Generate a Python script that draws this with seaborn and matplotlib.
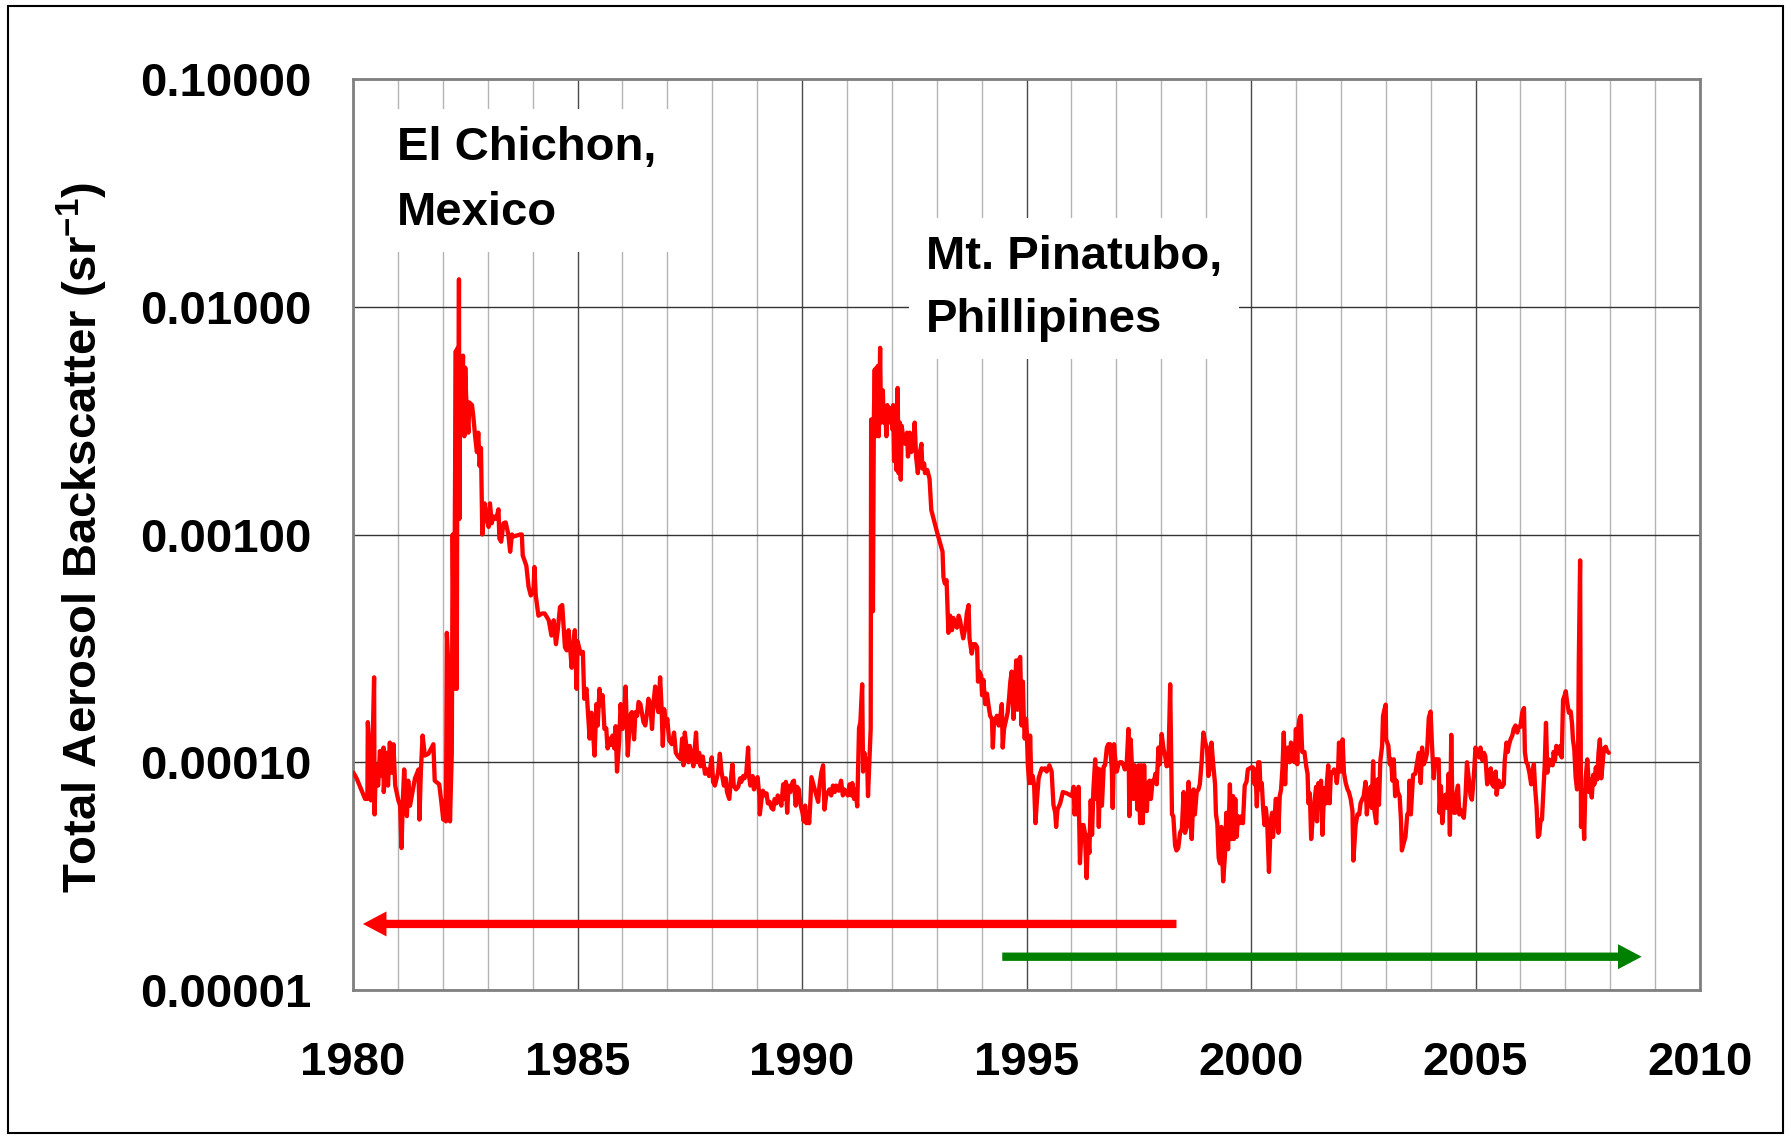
import matplotlib
matplotlib.use("Agg")
import matplotlib.pyplot as plt
import matplotlib.ticker as mticker
from matplotlib.patches import Rectangle
import pandas as pd
import seaborn as sns

# Total aerosol backscatter (sr^-1) against decimal year, read in segments.
seg_1980_1982 = [
    (1980.01, 9.0e-5), (1980.08, 8.5e-5), (1980.27, 6.9e-5), (1980.32, 6.9e-5),
    (1980.33, 1.5e-4), (1980.36, 1.18e-4), (1980.40, 6.8e-5), (1980.42, 8.5e-5),
    (1980.47, 2.36e-4), (1980.48, 5.9e-5), (1980.51, 9.7e-5), (1980.56, 7.9e-5),
    (1980.60, 1.12e-4), (1980.64, 8.7e-5), (1980.68, 1.16e-4), (1980.685, 7.4e-5),
    (1980.72, 9.3e-5), (1980.75, 1.1e-4), (1980.78, 7.9e-5), (1980.82, 1.22e-4),
    (1980.86, 9.0e-5), (1980.90, 1.2e-4), (1980.94, 7.9e-5), (1981.01, 6.8e-5),
    (1981.05, 6.45e-5), (1981.08, 4.2e-5), (1981.11, 6.8e-5), (1981.14, 9.3e-5),
    (1981.20, 5.8e-5), (1981.23, 8.3e-5), (1981.27, 6.45e-5), (1981.38, 8.5e-5),
    (1981.46, 9.3e-5), (1981.48, 5.6e-5), (1981.51, 9.0e-5), (1981.55, 1.31e-4),
    (1981.60, 1.07e-4), (1981.68, 1.09e-4), (1981.79, 1.2e-4), (1981.82, 8.3e-5),
    (1981.92, 8.0e-5), (1981.96, 6.9e-5), (1982.01, 5.6e-5), (1982.05, 6.8e-5),
]

seg_1982_1984 = [
    (1982.07, 5.5e-5), (1982.09, 3.7e-4), (1982.13, 2.5e-4), (1982.16, 5.5e-5),
    (1982.20, 1.1e-4), (1982.22, 1.0e-3), (1982.25, 2.1e-4), (1982.27, 1.37e-3),
    (1982.29, 6.4e-3), (1982.31, 2.1e-4), (1982.33, 6.6e-3), (1982.34, 1.17e-3),
    (1982.36, 1.32e-2), (1982.37, 1.17e-3), (1982.39, 5.9e-3), (1982.42, 3.0e-3),
    (1982.45, 6.1e-3), (1982.46, 3.0e-3), (1982.48, 2.7e-3), (1982.50, 5.4e-3),
    (1982.52, 4.0e-3), (1982.57, 2.8e-3), (1982.59, 3.8e-3), (1982.65, 3.7e-3),
    (1982.68, 3.3e-3), (1982.72, 2.7e-3), (1982.76, 2.3e-3), (1982.79, 2.8e-3),
    (1982.82, 2.0e-3), (1982.85, 2.4e-3), (1982.88, 1.0e-3), (1982.93, 1.37e-3),
    (1982.98, 1.17e-3), (1983.02, 1.08e-3), (1983.05, 1.37e-3), (1983.09, 1.12e-3),
    (1983.13, 1.2e-3), (1983.19, 1.17e-3), (1983.24, 1.29e-3), (1983.26, 9.6e-4),
    (1983.30, 9.3e-4), (1983.35, 1.12e-3), (1983.40, 1.13e-3), (1983.46, 1.0e-3),
    (1983.50, 8.4e-4), (1983.54, 1.0e-3), (1983.57, 9.8e-4), (1983.65, 9.9e-4),
    (1983.72, 1.0e-3), (1983.76, 1.0e-3), (1983.78, 8.1e-4), (1983.86, 7.3e-4),
    (1983.91, 5.9e-4), (1983.96, 5.4e-4), (1984.02, 5.7e-4), (1984.04, 7.2e-4),
    (1984.07, 5.4e-4), (1984.13, 4.4e-4),
]

seg_1984_1987 = [
    (1984.21, 4.5e-4), (1984.27, 4.5e-4), (1984.36, 4.2e-4), (1984.42, 3.6e-4),
    (1984.47, 4.2e-4), (1984.52, 3.3e-4), (1984.56, 3.8e-4), (1984.61, 4.8e-4),
    (1984.66, 4.9e-4), (1984.72, 3.2e-4), (1984.76, 3.1e-4), (1984.80, 3.8e-4),
    (1984.83, 3.3e-4), (1984.87, 2.6e-4), (1984.91, 3.2e-4), (1984.94, 3.8e-4),
    (1984.98, 2.1e-4), (1985.00, 3.4e-4), (1985.07, 3.0e-4), (1985.12, 3.05e-4),
    (1985.15, 1.9e-4), (1985.20, 2.1e-4), (1985.23, 1.7e-4), (1985.27, 1.27e-4),
    (1985.31, 1.65e-4), (1985.34, 1.4e-4), (1985.38, 1.07e-4), (1985.42, 1.8e-4),
    (1985.45, 1.45e-4), (1985.49, 2.1e-4), (1985.53, 1.78e-4), (1985.56, 1.97e-4),
    (1985.60, 1.4e-4), (1985.64, 1.41e-4), (1985.67, 1.15e-4), (1985.71, 1.27e-4),
    (1985.74, 1.19e-4), (1985.78, 1.31e-4), (1985.82, 1.15e-4), (1985.85, 1.44e-4),
    (1985.88, 9.1e-5), (1985.93, 1.26e-4), (1985.96, 1.8e-4), (1986.00, 1.4e-4),
    (1986.04, 1.66e-4), (1986.07, 2.15e-4), (1986.10, 1.4e-4), (1986.12, 1.07e-4),
    (1986.17, 1.6e-4), (1986.21, 1.66e-4), (1986.26, 1.26e-4), (1986.29, 1.66e-4),
    (1986.33, 1.6e-4), (1986.36, 1.84e-4), (1986.40, 1.8e-4), (1986.43, 1.66e-4),
    (1986.47, 1.5e-4), (1986.51, 1.45e-4), (1986.55, 1.66e-4), (1986.58, 1.9e-4),
    (1986.62, 1.8e-4), (1986.66, 1.4e-4), (1986.69, 1.8e-4), (1986.73, 2.15e-4),
    (1986.77, 1.8e-4), (1986.80, 1.66e-4),
]

seg_1987_1991 = [
    (1986.84, 2.36e-4), (1986.87, 1.78e-4), (1986.90, 1.18e-4), (1986.93, 1.71e-4),
    (1986.97, 1.45e-4), (1987.00, 1.55e-4), (1987.04, 1.25e-4), (1987.10, 1.2e-4),
    (1987.15, 1.35e-4), (1987.19, 1.1e-4), (1987.24, 1.06e-4), (1987.30, 1.03e-4),
    (1987.33, 1.27e-4), (1987.36, 9.7e-5), (1987.39, 1.35e-4), (1987.43, 1.15e-4),
    (1987.47, 1.0e-4), (1987.50, 1.18e-4), (1987.54, 1.06e-4), (1987.58, 9.6e-5),
    (1987.64, 1.35e-4), (1987.67, 1.0e-4), (1987.71, 1.1e-4), (1987.74, 9.6e-5),
    (1987.79, 1.06e-4), (1987.84, 8.9e-5), (1987.88, 9.3e-5), (1987.93, 8.7e-5),
    (1987.99, 1.05e-4), (1988.02, 8.2e-5), (1988.06, 7.9e-5), (1988.10, 8.5e-5),
    (1988.13, 9.0e-5), (1988.17, 1.09e-4), (1988.21, 9.0e-5), (1988.26, 7.9e-5),
    (1988.30, 8.5e-5), (1988.33, 7.4e-5), (1988.38, 6.9e-5), (1988.43, 9.0e-5),
    (1988.45, 9.8e-5), (1988.48, 7.9e-5), (1988.53, 7.6e-5), (1988.58, 7.8e-5),
    (1988.62, 8.5e-5), (1988.65, 8.2e-5), (1988.69, 8.7e-5), (1988.72, 8.5e-5),
    (1988.76, 9.0e-5), (1988.80, 1.16e-4), (1988.82, 8.7e-5), (1988.85, 7.9e-5),
    (1988.90, 8.7e-5), (1988.93, 7.6e-5), (1988.97, 8.2e-5), (1989.01, 8.6e-5),
    (1989.05, 7.15e-5), (1989.06, 5.9e-5), (1989.10, 6.9e-5), (1989.13, 7.5e-5),
    (1989.17, 7.15e-5), (1989.21, 7.3e-5), (1989.24, 6.6e-5), (1989.28, 6.7e-5),
    (1989.32, 6.3e-5), (1989.36, 6.2e-5), (1989.39, 6.9e-5), (1989.43, 6.6e-5),
    (1989.46, 7.15e-5), (1989.50, 6.9e-5), (1989.54, 6.45e-5), (1989.58, 8.0e-5),
    (1989.62, 6.9e-5), (1989.64, 8.2e-5), (1989.67, 6.0e-5), (1989.70, 7.9e-5),
    (1989.74, 7.4e-5), (1989.79, 8.2e-5), (1989.82, 8.3e-5), (1989.86, 6.45e-5),
    (1989.89, 7.8e-5), (1989.93, 7.6e-5), (1989.96, 6.6e-5), (1990.01, 6.0e-5),
    (1990.04, 5.5e-5), (1990.07, 6.45e-5), (1990.10, 5.4e-5), (1990.14, 6.0e-5),
    (1990.16, 5.4e-5), (1990.19, 6.9e-5), (1990.21, 8.6e-5), (1990.26, 7.9e-5),
    (1990.32, 7.15e-5), (1990.36, 6.7e-5), (1990.39, 7.9e-5), (1990.43, 9.0e-5),
    (1990.47, 9.7e-5), (1990.50, 6.2e-5), (1990.54, 7.15e-5), (1990.58, 7.4e-5),
    (1990.61, 7.6e-5), (1990.65, 7.15e-5), (1990.69, 7.9e-5), (1990.73, 7.4e-5),
    (1990.76, 7.9e-5), (1990.82, 7.5e-5), (1990.87, 8.3e-5), (1990.91, 7.15e-5),
    (1990.94, 7.6e-5), (1990.98, 7.4e-5), (1991.02, 7.15e-5), (1991.06, 8.0e-5),
    (1991.10, 7.15e-5),
]

seg_1991_1993 = [
    (1991.12, 8.1e-5), (1991.16, 6.9e-5), (1991.19, 7.6e-5), (1991.23, 6.4e-5),
    (1991.27, 1.41e-4), (1991.30, 1.5e-4), (1991.34, 2.2e-4), (1991.36, 9.1e-5),
    (1991.39, 1.1e-4), (1991.42, 1.0e-4), (1991.45, 1.03e-4), (1991.47, 7.1e-5),
    (1991.50, 1.0e-4), (1991.53, 1.41e-4), (1991.54, 3.2e-3), (1991.58, 4.6e-4),
    (1991.60, 3.2e-3), (1991.62, 5.3e-3), (1991.64, 2.7e-3), (1991.66, 5.4e-3),
    (1991.67, 3.2e-3), (1991.69, 5.5e-3), (1991.71, 2.7e-3), (1991.74, 6.6e-3),
    (1991.76, 3.1e-3), (1991.80, 4.3e-3), (1991.82, 3.1e-3), (1991.85, 3.66e-3),
    (1991.88, 2.7e-3), (1991.90, 3.7e-3), (1991.93, 3.1e-3), (1991.96, 3.4e-3),
    (1991.99, 3.6e-3), (1992.01, 2.9e-3), (1992.03, 3.7e-3), (1992.05, 2.1e-3),
    (1992.08, 2.8e-3), (1992.10, 1.92e-3), (1992.13, 4.4e-3), (1992.15, 1.86e-3),
    (1992.18, 3.1e-3), (1992.20, 1.74e-3), (1992.22, 3.0e-3), (1992.26, 2.6e-3),
    (1992.30, 2.5e-3), (1992.34, 2.8e-3), (1992.36, 2.2e-3), (1992.40, 2.8e-3),
    (1992.43, 2.3e-3), (1992.47, 2.35e-3), (1992.51, 3.1e-3), (1992.54, 2.2e-3),
    (1992.58, 1.86e-3), (1992.61, 2.2e-3), (1992.66, 2.5e-3), (1992.68, 1.95e-3),
    (1992.72, 2.05e-3), (1992.74, 1.86e-3), (1992.79, 1.92e-3), (1992.84, 1.76e-3),
    (1992.88, 1.28e-3), (1993.01, 1.02e-3), (1993.13, 8.4e-4), (1993.15, 6.5e-4),
    (1993.18, 6.1e-4), (1993.22, 6.3e-4), (1993.26, 3.7e-4),
]

seg_1993_1996 = [
    (1993.30, 4.4e-4), (1993.34, 3.8e-4), (1993.37, 4.3e-4), (1993.41, 4.0e-4),
    (1993.45, 3.9e-4), (1993.49, 4.4e-4), (1993.52, 4.2e-4), (1993.59, 3.5e-4),
    (1993.64, 3.9e-4), (1993.67, 4.5e-4), (1993.71, 4.9e-4), (1993.73, 3.5e-4),
    (1993.76, 3.2e-4), (1993.78, 3.0e-4), (1993.82, 3.3e-4), (1993.86, 3.3e-4),
    (1993.90, 3.2e-4), (1993.92, 2.26e-4), (1993.95, 2.5e-4), (1993.99, 2.4e-4),
    (1994.01, 1.97e-4), (1994.04, 2.3e-4), (1994.08, 1.8e-4), (1994.12, 2.0e-4),
    (1994.15, 1.8e-4), (1994.19, 1.6e-4), (1994.23, 1.55e-4), (1994.25, 1.16e-4),
    (1994.28, 1.55e-4), (1994.31, 1.5e-4), (1994.34, 1.6e-4), (1994.38, 1.45e-4),
    (1994.41, 1.55e-4), (1994.45, 1.8e-4), (1994.47, 1.16e-4), (1994.50, 1.4e-4),
    (1994.55, 1.55e-4), (1994.58, 1.65e-4), (1994.61, 1.9e-4), (1994.64, 2.26e-4),
    (1994.67, 2.5e-4), (1994.71, 1.55e-4), (1994.74, 2.0e-4), (1994.77, 2.8e-4),
    (1994.80, 1.7e-4), (1994.83, 2.8e-4), (1994.86, 2.9e-4), (1994.89, 1.45e-4),
    (1994.92, 2.26e-4), (1994.94, 1.56e-4), (1994.96, 1.27e-4), (1994.99, 1.55e-4),
    (1995.01, 1.31e-4), (1995.03, 9.7e-5), (1995.06, 8.1e-5), (1995.08, 1.31e-4),
    (1995.11, 8.1e-5), (1995.14, 8.7e-5), (1995.17, 7.9e-5), (1995.20, 5.4e-5),
    (1995.23, 6.7e-5), (1995.27, 8.5e-5), (1995.30, 8.9e-5), (1995.34, 9.4e-5),
    (1995.38, 9.3e-5), (1995.41, 9.4e-5), (1995.45, 9.1e-5), (1995.51, 9.7e-5),
    (1995.56, 9.1e-5), (1995.60, 6.5e-5), (1995.64, 6.0e-5), (1995.66, 5.2e-5),
    (1995.69, 6.2e-5), (1995.75, 6.6e-5),
]

seg_1996_1999 = [
    (1995.81, 7.4e-5), (1995.90, 7.3e-5), (1996.01, 7.1e-5), (1996.05, 7.8e-5),
    (1996.07, 5.9e-5), (1996.10, 6.9e-5), (1996.13, 5.9e-5), (1996.16, 7.8e-5),
    (1996.19, 3.6e-5), (1996.23, 5.3e-5), (1996.27, 5.3e-5), (1996.30, 4.9e-5),
    (1996.34, 3.1e-5), (1996.37, 4.8e-5), (1996.40, 4.0e-5), (1996.43, 6.8e-5),
    (1996.46, 4.8e-5), (1996.49, 7.6e-5), (1996.53, 1.03e-4), (1996.55, 6.9e-5),
    (1996.58, 9.4e-5), (1996.61, 5.2e-5), (1996.64, 9.3e-5), (1996.68, 6.45e-5),
    (1996.72, 9.6e-5), (1996.75, 9.7e-5), (1996.79, 1.16e-4), (1996.82, 1.2e-4),
    (1996.86, 1.2e-4), (1996.90, 9.3e-5), (1996.92, 6.3e-5), (1996.95, 1.2e-4),
    (1996.97, 1.06e-4), (1997.01, 9.1e-5), (1997.05, 9.8e-5), (1997.08, 1.0e-4),
    (1997.12, 1.0e-4), (1997.16, 9.7e-5), (1997.19, 9.3e-5), (1997.23, 9.7e-5),
    (1997.27, 1.4e-4), (1997.29, 5.8e-5), (1997.32, 1.26e-4), (1997.35, 9.5e-5),
    (1997.38, 6.9e-5), (1997.41, 9.7e-5), (1997.44, 8.2e-5), (1997.47, 6.2e-5),
    (1997.50, 9.7e-5), (1997.53, 5.4e-5), (1997.56, 9.7e-5), (1997.59, 5.4e-5),
    (1997.62, 9.7e-5), (1997.65, 6.2e-5), (1997.68, 6.1e-5), (1997.71, 8.1e-5),
    (1997.74, 8.3e-5), (1997.77, 6.9e-5), (1997.81, 8.3e-5), (1997.84, 8.2e-5),
    (1997.87, 8.9e-5), (1997.90, 8.0e-5), (1997.94, 1.16e-4), (1997.97, 9.8e-5),
    (1998.01, 1.33e-4), (1998.05, 1.15e-4), (1998.09, 1.06e-4), (1998.12, 9.6e-5),
    (1998.16, 9.7e-5), (1998.20, 2.2e-4), (1998.24, 5.9e-5), (1998.27, 5.8e-5),
    (1998.31, 4.3e-5), (1998.34, 4.1e-5), (1998.38, 4.2e-5), (1998.42, 4.9e-5),
    (1998.46, 5.1e-5), (1998.50, 7.4e-5), (1998.53, 4.9e-5), (1998.57, 5.2e-5),
    (1998.61, 8.2e-5), (1998.64, 6.3e-5), (1998.68, 4.6e-5), (1998.72, 7.6e-5),
    (1998.75, 5.9e-5), (1998.79, 7.4e-5), (1998.83, 7.6e-5), (1998.86, 8.0e-5),
    (1998.90, 1.0e-4), (1998.94, 1.35e-4), (1998.98, 1.22e-4), (1999.02, 1.16e-4),
    (1999.05, 8.7e-5), (1999.09, 9.7e-5), (1999.12, 1.22e-4), (1999.16, 9.7e-5),
    (1999.20, 8.0e-5), (1999.22, 5.9e-5), (1999.25, 5.4e-5), (1999.28, 3.8e-5),
    (1999.31, 3.6e-5),
]

seg_1999_2003 = [
    (1999.34, 5.2e-5), (1999.38, 3.0e-5), (1999.42, 3.9e-5), (1999.45, 6.0e-5),
    (1999.49, 4.15e-5), (1999.53, 8.0e-5), (1999.56, 4.6e-5), (1999.60, 7.1e-5),
    (1999.62, 4.6e-5), (1999.65, 6.9e-5), (1999.68, 4.7e-5), (1999.71, 5.8e-5),
    (1999.75, 5.4e-5), (1999.79, 5.8e-5), (1999.82, 5.4e-5), (1999.86, 7.9e-5),
    (1999.90, 8.2e-5), (1999.93, 9.3e-5), (1999.97, 9.4e-5), (2000.01, 9.5e-5),
    (2000.04, 9.5e-5), (2000.08, 8.0e-5), (2000.10, 9.3e-5), (2000.13, 6.4e-5),
    (2000.16, 1.0e-4), (2000.19, 1.0e-4), (2000.21, 7.6e-5), (2000.24, 8.1e-5),
    (2000.27, 6.3e-5), (2000.30, 5.3e-5), (2000.33, 6.3e-5), (2000.36, 5.5e-5),
    (2000.40, 3.3e-5), (2000.44, 5.5e-5), (2000.47, 6.0e-5), (2000.49, 4.7e-5),
    (2000.53, 5.8e-5), (2000.55, 6.9e-5), (2000.58, 6.9e-5), (2000.61, 4.9e-5),
    (2000.64, 7.1e-5), (2000.67, 7.6e-5), (2000.70, 9.4e-5), (2000.73, 1.35e-4),
    (2000.76, 8.0e-5), (2000.79, 1.13e-4), (2000.82, 1.16e-4), (2000.86, 1.0e-4),
    (2000.89, 1.22e-4), (2000.93, 1.11e-4), (2000.97, 1.0e-4), (2001.00, 1.4e-4),
    (2001.03, 9.8e-5), (2001.06, 1.45e-4), (2001.08, 1.55e-4), (2001.11, 1.6e-4),
    (2001.14, 1.11e-4), (2001.19, 1.11e-4), (2001.23, 9.6e-5), (2001.26, 8.9e-5),
    (2001.28, 6.6e-5), (2001.31, 7.3e-5), (2001.34, 4.6e-5), (2001.38, 5.9e-5),
    (2001.41, 6.6e-5), (2001.45, 7.8e-5), (2001.47, 5.5e-5), (2001.50, 8.1e-5),
    (2001.53, 7.1e-5), (2001.56, 8.3e-5), (2001.59, 4.8e-5), (2001.63, 7.7e-5),
    (2001.67, 6.6e-5), (2001.69, 8.1e-5), (2001.72, 9.7e-5), (2001.75, 6.6e-5),
    (2001.78, 9.0e-5), (2001.82, 9.0e-5), (2001.85, 9.3e-5), (2001.89, 8.8e-5),
    (2001.91, 8.1e-5), (2001.94, 9.3e-5), (2001.96, 1.22e-4), (2002.00, 9.1e-5),
    (2002.04, 1.26e-4), (2002.07, 9.0e-5), (2002.11, 8.1e-5), (2002.15, 7.6e-5),
    (2002.18, 7.4e-5), (2002.22, 6.9e-5), (2002.26, 6.1e-5), (2002.28, 3.7e-5),
    (2002.31, 4.6e-5), (2002.33, 5.3e-5), (2002.37, 5.9e-5), (2002.41, 5.9e-5),
    (2002.44, 6.6e-5), (2002.48, 6.9e-5), (2002.51, 7.1e-5), (2002.55, 8.2e-5),
    (2002.58, 5.9e-5), (2002.61, 7.1e-5),
]

seg_2003_2008 = [
    (2002.66, 7.8e-5), (2002.69, 6.3e-5), (2002.72, 1.01e-4), (2002.75, 6.1e-5),
    (2002.79, 5.4e-5), (2002.82, 8.4e-5), (2002.85, 6.5e-5), (2002.88, 1.01e-4),
    (2002.92, 1.18e-4), (2002.94, 1.59e-4), (2002.97, 1.7e-4), (2003.00, 1.79e-4),
    (2003.01, 1.26e-4), (2003.06, 1.18e-4), (2003.09, 9.8e-5), (2003.12, 1.03e-4),
    (2003.15, 8.3e-5), (2003.18, 1.03e-4), (2003.21, 7.1e-5), (2003.24, 8.3e-5),
    (2003.27, 7.4e-5), (2003.31, 7.1e-5), (2003.34, 5.6e-5), (2003.36, 4.1e-5),
    (2003.40, 4.4e-5), (2003.44, 4.7e-5), (2003.48, 5.9e-5), (2003.51, 6.0e-5),
    (2003.53, 8.3e-5), (2003.56, 5.9e-5), (2003.61, 8.8e-5), (2003.66, 8.9e-5),
    (2003.70, 1.0e-4), (2003.74, 1.1e-4), (2003.78, 8.1e-5), (2003.81, 1.16e-4),
    (2003.85, 9.8e-5), (2003.89, 1.03e-4), (2003.92, 1.1e-4), (2003.96, 1.57e-4),
    (2004.00, 1.67e-4), (2004.03, 1.2e-4), (2004.07, 8.5e-5), (2004.10, 1.03e-4),
    (2004.14, 1.03e-4), (2004.18, 1.03e-4), (2004.20, 6.0e-5), (2004.23, 7.85e-5),
    (2004.26, 5.4e-5), (2004.29, 6.3e-5), (2004.33, 7.2e-5), (2004.37, 6.3e-5),
    (2004.40, 8.9e-5), (2004.43, 4.8e-5), (2004.46, 1.32e-4), (2004.48, 7.4e-5),
    (2004.52, 6.0e-5), (2004.55, 6.0e-5), (2004.58, 7.4e-5), (2004.61, 7.9e-5),
    (2004.64, 5.9e-5), (2004.66, 6.2e-5), (2004.70, 5.9e-5), (2004.74, 5.7e-5),
    (2004.78, 7.3e-5), (2004.81, 1.0e-4), (2004.85, 8.5e-5), (2004.89, 7.1e-5),
    (2004.92, 6.85e-5), (2004.96, 8.5e-5), (2005.00, 1.16e-4), (2005.04, 1.1e-4),
    (2005.08, 1.05e-4), (2005.11, 1.16e-4), (2005.15, 1.02e-4), (2005.19, 1.1e-4),
    (2005.22, 1.06e-4), (2005.26, 8.0e-5), (2005.30, 8.8e-5), (2005.34, 9.4e-5),
    (2005.37, 8.0e-5), (2005.41, 7.8e-5), (2005.45, 9.1e-5), (2005.47, 7.2e-5),
    (2005.50, 8.0e-5), (2005.52, 8.3e-5), (2005.56, 7.8e-5), (2005.59, 7.8e-5),
    (2005.63, 8.0e-5), (2005.65, 1.01e-4), (2005.69, 1.22e-4), (2005.72, 1.11e-4),
    (2005.74, 1.18e-4), (2005.78, 1.26e-4), (2005.82, 1.31e-4), (2005.85, 1.4e-4),
    (2005.89, 1.45e-4), (2005.93, 1.35e-4), (2005.96, 1.43e-4), (2006.00, 1.43e-4),
    (2006.04, 1.65e-4), (2006.08, 1.73e-4), (2006.10, 1.11e-4), (2006.13, 1.0e-4),
    (2006.16, 9.8e-5), (2006.20, 9.0e-5), (2006.24, 8.0e-5), (2006.27, 9.0e-5),
    (2006.30, 9.8e-5), (2006.33, 7.6e-5), (2006.36, 6.4e-5), (2006.39, 4.7e-5),
    (2006.42, 4.8e-5), (2006.45, 5.6e-5), (2006.48, 5.6e-5), (2006.51, 7.3e-5),
    (2006.54, 9.6e-5), (2006.57, 1.49e-4), (2006.60, 9.0e-5), (2006.63, 1.03e-4),
    (2006.66, 9.7e-5), (2006.69, 1.02e-4), (2006.72, 9.7e-5), (2006.74, 1.11e-4),
    (2006.77, 1.02e-4), (2006.80, 1.18e-4), (2006.83, 1.14e-4), (2006.86, 1.09e-4),
    (2006.89, 1.18e-4), (2006.92, 1.05e-4), (2006.95, 1.88e-4), (2006.98, 1.95e-4),
    (2007.01, 2.05e-4), (2007.04, 1.84e-4), (2007.08, 1.65e-4), (2007.12, 1.67e-4),
    (2007.15, 1.48e-4), (2007.17, 1.26e-4), (2007.20, 1.14e-4), (2007.23, 8.6e-5),
    (2007.26, 7.6e-5), (2007.28, 7.8e-5), (2007.30, 2.7e-4), (2007.33, 7.7e-4),
    (2007.35, 5.2e-5), (2007.38, 7.5e-5), (2007.42, 4.6e-5), (2007.45, 8.4e-5),
    (2007.49, 1.03e-4), (2007.53, 7.4e-5), (2007.56, 8.4e-5), (2007.59, 7.0e-5),
    (2007.62, 8.8e-5), (2007.65, 8.0e-5), (2007.68, 9.5e-5), (2007.71, 8.4e-5),
    (2007.74, 1.1e-4), (2007.77, 1.26e-4), (2007.80, 8.5e-5), (2007.83, 9.8e-5),
    (2007.86, 1.15e-4), (2007.90, 1.17e-4), (2007.93, 1.12e-4), (2007.97, 1.10e-4),
]

segments = [seg_1980_1982, seg_1982_1984, seg_1984_1987, seg_1987_1991,
            seg_1991_1993, seg_1993_1996, seg_1996_1999, seg_1999_2003,
            seg_2003_2008]

# Eruption labels
label_chichon = "El Chichon,\nMexico"
label_pinatubo = "Mt. Pinatubo,\nPhillipines"
y_label = r"Total Aerosol Backscatter (sr$^{\mathbf{-1}}$)"

# Coverage arrows (start year, end year, level)
red_span = (1998.34, 1980.22, 1.95e-5)
green_span = (1994.46, 2008.70, 1.40e-5)

rows = [pt for seg in segments for pt in seg]
df = pd.DataFrame(rows, columns=["year", "backscatter"])

sns.set_style("white")
plt.rcParams["font.family"] = ["Liberation Sans", "DejaVu Sans"]
plt.rcParams["font.weight"] = "bold"
plt.rcParams["text.color"] = "black"
plt.rcParams["axes.labelcolor"] = "black"
plt.rcParams["mathtext.fontset"] = "custom"
plt.rcParams["mathtext.rm"] = "Liberation Sans"
plt.rcParams["mathtext.bf"] = "Liberation Sans:bold"

W, H = 1791, 1139
fig = plt.figure(figsize=(W / 100, H / 100), dpi=100)
fig.patch.set_facecolor("white")
ax = fig.add_axes([353 / W, 1 - 990 / H, 1347 / W, 911 / H])

sns.lineplot(data=df, x="year", y="backscatter", ax=ax, color="#FF0000",
             linewidth=3.1, estimator=None, sort=False, zorder=3)

ax.set_yscale("log")
ax.set_xlim(1980, 2010)
ax.set_ylim(1e-5, 1e-1)

ax.xaxis.set_major_locator(mticker.MultipleLocator(5))
ax.xaxis.set_minor_locator(mticker.MultipleLocator(1))
ax.xaxis.set_major_formatter(mticker.FuncFormatter(lambda v, p: f"{int(round(v))}"))
ax.yaxis.set_major_locator(mticker.LogLocator(base=10, numticks=10))
ax.yaxis.set_minor_locator(mticker.NullLocator())
ax.yaxis.set_major_formatter(mticker.FuncFormatter(lambda v, p: f"{v:.5f}"))

ax.set_axisbelow(True)
ax.grid(which="minor", axis="x", color="#b4b4b4", linewidth=1.0)
ax.grid(which="major", axis="x", color="#4a4a4a", linewidth=1.0)
ax.grid(which="major", axis="y", color="#333333", linewidth=1.0)

ax.tick_params(axis="both", which="major", direction="out", length=11,
               width=1.3, color="#555555", labelsize=34, labelcolor="black")
ax.tick_params(axis="y", which="major", pad=19)
ax.tick_params(axis="x", which="major", pad=26)
ax.tick_params(axis="x", which="minor", length=0)
for lab in ax.get_xticklabels() + ax.get_yticklabels():
    lab.set_fontweight("bold")

for side in ["left", "right", "top", "bottom"]:
    ax.spines[side].set_color("#808080")
    ax.spines[side].set_linewidth(2)

ax.set_xlabel("")
ax.set_ylabel(y_label, fontsize=34, fontweight="bold", va="center", color="black")
ax.yaxis.set_label_coords(-0.2012, 0.497)

box = dict(boxstyle="square,pad=0.35", facecolor="white", edgecolor="none")
ax.text(0.0327, 0.9484, label_chichon, transform=ax.transAxes, fontsize=34,
        fontweight="bold", color="black", ha="left", va="top", linespacing=1.62,
        bbox=box, zorder=4)
ax.text(0.4254, 0.8288, label_pinatubo, transform=ax.transAxes, fontsize=34,
        fontweight="bold", color="black", ha="left", va="top", linespacing=1.56,
        bbox=box, zorder=4)

for (x0, x1, lvl), col in [(red_span, "#FF0000"), (green_span, "#008000")]:
    ax.annotate("", xy=(x1, lvl), xytext=(x0, lvl),
                arrowprops=dict(arrowstyle="simple,head_length=17,head_width=18,tail_width=6",
                                mutation_scale=1, facecolor=col, edgecolor="none",
                                shrinkA=0, shrinkB=0),
                zorder=4)

fig.add_artist(Rectangle((8 / W, 6 / H), (W - 16) / W, (H - 12) / H,
                         transform=fig.transFigure, fill=False,
                         edgecolor="black", linewidth=1.5))

fig.savefig("out.png", dpi=100, facecolor="white")
